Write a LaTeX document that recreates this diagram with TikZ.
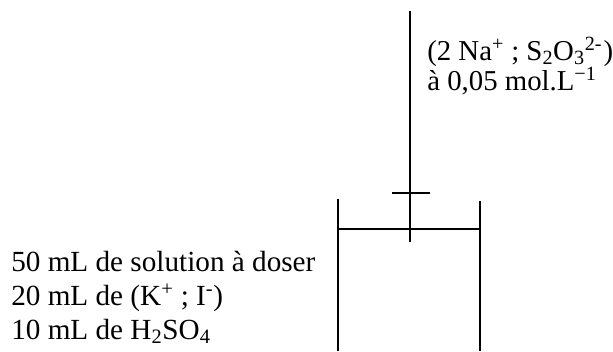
\documentclass[tikz,border=0pt]{standalone}
\usepackage{fontspec}
\setmainfont{Liberation Serif}
\usetikzlibrary{positioning}
\tikzset{
  wall/.style={black,line width=1.2pt},
  label/.style={align=left,inner sep=0pt}
}
\newcommand{\up}[1]{\textsuperscript{#1}}
\newcommand{\dn}[1]{\textsubscript{#1}}

\begin{document}
\begin{tikzpicture}[x=0.75pt,y=-0.75pt]
\useasboundingbox (0,0) rectangle (613,351);
\coordinate (tip) at (410,242);
\coordinate (top) at (410,11);
\coordinate (tickL) at (392,193);
\coordinate (tickR) at (430,193);
\coordinate (wallL) at (338,199);
\coordinate (baseL) at (338,351);
\coordinate (wallR) at (480,201);
\coordinate (baseR) at (480,351);
\coordinate (levelL) at (338,229);
\coordinate (levelR) at (480,229);
% burette
\draw[wall] (top) -- (tip);
\draw[wall] (tickL) -- (tickR);
% beaker
\draw[wall] (wallL) -- (baseL);
\draw[wall] (wallR) -- (baseR);
\draw[wall] (levelL) -- (levelR);
\node (titrant) [label,anchor=north west,font=\fontsize{21.6}{22.5}\selectfont] at (427,37)
  {(2 Na\up{+} ; S\dn{2}O\dn{3}\up{2-}\kern1pt)\\à 0,05 mol.L\up{−1}};
\node (sample) [label,anchor=north west,font=\fontsize{21.9}{25.6}\selectfont] at (11,251)
  {50 mL de solution à doser\\20 mL de (K\up{+} ; I\up{-})\\10 mL de H\dn{2}SO\dn{4}};
\end{tikzpicture}
\end{document}
